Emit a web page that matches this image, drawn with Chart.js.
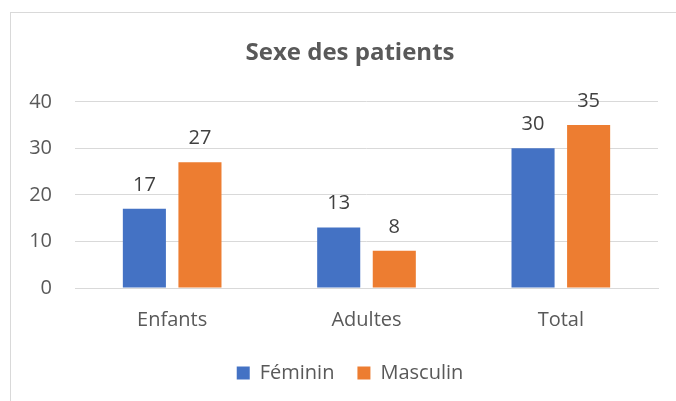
<!DOCTYPE html>
<html lang="fr">
<head>
<meta charset="utf-8">
<title>Sexe des patients</title>
<script src="https://cdn.jsdelivr.net/npm/chart.js@4.4.1/dist/chart.umd.min.js"></script>
<style>
    html, body { margin: 0; padding: 0; background: #ffffff; }
    #wrap { position: relative; width: 676px; height: 401px; }
</style>
</head>
<body>
<div id="wrap"><canvas id="sexeChart"></canvas></div>
<script>
// Data
const categories = ['Enfants', 'Adultes', 'Total'];
const feminin = [17, 13, 30];
const masculin = [27, 8, 35];
const yTicks = [0, 10, 20, 30, 40];

const colors = {
    blue: '#4472C4',
    orange: '#ED7D31',
    grid: '#d9d9d9',
    tick: '#595959',
    label: '#404040'
};

// Light grey frame around the chart (as in the Excel export)
const framePlugin = {
    id: 'frame',
    beforeDraw(chart) {
        const ctx = chart.ctx;
        ctx.save();
        ctx.fillStyle = '#ffffff';
        ctx.fillRect(0, 0, chart.width, chart.height);
        ctx.strokeStyle = colors.grid;
        ctx.lineWidth = 1;
        ctx.strokeRect(10.5, 12.5, chart.width + 20, chart.height + 20);
        ctx.restore();
    },
    // the y labels stick out left of the narrow axis box, so widen its clip area
    afterLayout(chart) {
        chart.scales.y.left = 0;
    }
};

// Value labels above every bar
const valueLabels = {
    id: 'valueLabels',
    afterDatasetsDraw(chart) {
        const ctx = chart.ctx;
        ctx.save();
        ctx.font = "20px 'Open Sans', sans-serif";
        ctx.fillStyle = colors.label;
        ctx.textAlign = 'center';
        ctx.textBaseline = 'alphabetic';
        chart.data.datasets.forEach((ds, i) => {
            chart.getDatasetMeta(i).data.forEach((bar, j) => {
                ctx.fillText(String(ds.data[j]), bar.x, bar.y - 18);
            });
        });
        ctx.restore();
    }
};

Chart.defaults.font.family = "'Open Sans', sans-serif";
Chart.defaults.color = colors.tick;

new Chart(document.getElementById('sexeChart'), {
    type: 'bar',
    data: {
        labels: categories,
        datasets: [
            {
                label: 'Féminin',
                data: feminin,
                backgroundColor: colors.blue,
                categoryPercentage: 0.572,
                barPercentage: 0.775
            },
            {
                label: 'Masculin',
                data: masculin,
                backgroundColor: colors.orange,
                categoryPercentage: 0.572,
                barPercentage: 0.775
            }
        ]
    },
    options: {
        responsive: true,
        maintainAspectRatio: false,
        animation: false,
        layout: {
            padding: { left: 42, right: 18, top: 0, bottom: 8 }
        },
        plugins: {
            title: {
                display: true,
                text: 'Sexe des patients',
                color: colors.tick,
                font: { size: 24, weight: 'bold' },
                padding: { top: 39, bottom: 34 }
            },
            legend: {
                position: 'bottom',
                labels: {
                    boxWidth: 13,
                    boxHeight: 13,
                    padding: 23,
                    color: colors.tick,
                    font: { size: 20 }
                }
            },
            tooltip: { enabled: false }
        },
        scales: {
            x: {
                grid: { display: false, drawTicks: false },
                border: { color: colors.grid },
                ticks: { color: colors.tick, font: { size: 20 }, padding: 20 },
                afterFit(scale) { scale.height = 52; }
            },
            y: {
                min: 0,
                max: 40,
                afterBuildTicks(scale) {
                    scale.ticks = yTicks.map(v => ({ value: v }));
                },
                grid: { color: colors.grid, drawTicks: false },
                border: { display: false },
                ticks: { color: colors.tick, font: { size: 20 }, padding: 23 },
                afterFit(scale) { scale.width = 33; }
            }
        }
    },
    plugins: [framePlugin, valueLabels]
});
</script>
</body>
</html>
